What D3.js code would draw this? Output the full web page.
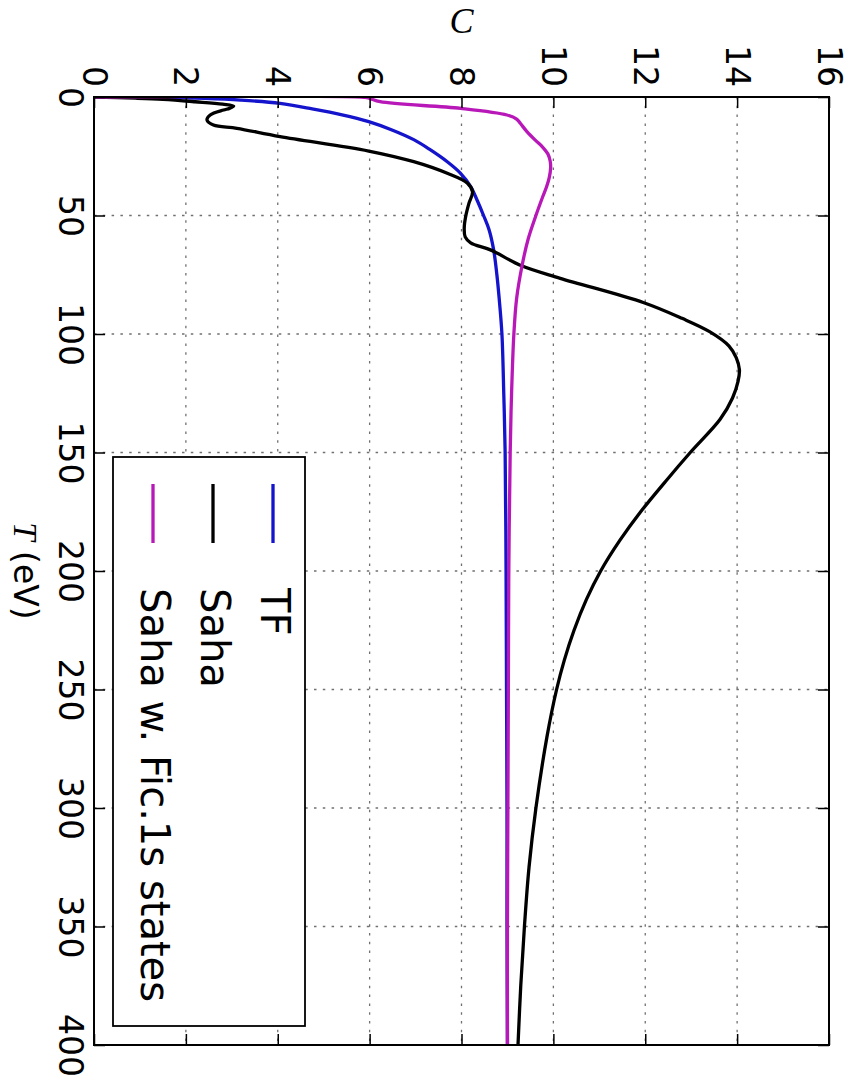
<!DOCTYPE html>
<html>
<head>
<meta charset="utf-8">
<script src="https://cdn.jsdelivr.net/npm/d3@7"></script>
<style>
  body { margin: 0; background: #fff; }
  svg { display: block; }
</style>
</head>
<body>
<script>
// Tick values
const cTicks = [0, 2, 4, 6, 8, 10, 12, 14, 16];
const tTicks = [0, 50, 100, 150, 200, 250, 300, 350, 400];

// Thomas-Fermi ionization C(T)
const tfT = [0, 0.2, 0.6, 1.3, 2.7, 5, 7.5, 10.4, 14, 18, 22, 27.3, 32, 37.8, 44, 50, 56, 64.5, 75, 85, 100, 125, 150, 200, 250, 300, 350, 400];
const tfC = [0, 1.5, 2.4, 3.19, 4.05, 4.75, 5.4, 5.98, 6.5, 6.96, 7.3, 7.69, 7.97, 8.2, 8.35, 8.48, 8.6, 8.7, 8.77, 8.82, 8.88, 8.92, 8.95, 8.97, 8.98, 8.99, 8.99, 9.0];

// Saha ionization C(T)
const sahaT = [0, 0.5, 1, 2, 3, 3.8, 4.8, 5.5, 7.6, 9.7, 11.8, 13.2, 16.7, 22.8, 27.3, 32.2, 36.4, 40, 45, 50.5, 55, 59, 61.5, 64.5, 71, 76.5, 86.8, 93.4, 99, 105, 110, 115, 120, 127, 136, 150, 162, 175, 187, 200, 212, 225, 237.5, 250, 270, 300, 325, 350, 375, 400];
const sahaC = [0, 0.9, 1.5, 2.2, 2.8, 3.04, 2.95, 2.82, 2.53, 2.46, 2.6, 3.11, 4.05, 5.98, 6.96, 7.69, 8.13, 8.24, 8.16, 8.09, 8.06, 8.08, 8.2, 8.63, 9.28, 10.15, 11.97, 12.8, 13.4, 13.82, 13.98, 14.05, 14.02, 13.9, 13.63, 12.98, 12.45, 11.9, 11.45, 11.03, 10.72, 10.45, 10.24, 10.07, 9.86, 9.62, 9.47, 9.37, 9.29, 9.23];

// Saha with fictitious 1s states C(T)
const ficT = [0, 0.15, 0.6, 2, 4.8, 7.6, 9.3, 11.1, 14.5, 18.1, 21, 24, 27, 30, 34, 38, 42, 50, 60, 71, 85, 100, 125, 150, 200, 250, 300, 350, 400];
const ficC = [0, 5.9, 6.0, 6.23, 7.98, 8.99, 9.2, 9.28, 9.42, 9.6, 9.76, 9.88, 9.93, 9.94, 9.91, 9.85, 9.77, 9.62, 9.45, 9.32, 9.2, 9.14, 9.09, 9.06, 9.03, 9.02, 9.01, 9.0, 9.0];

const seriesNames = ["TF", "Saha", "Saha w. Fic.1s states"];
const seriesColors = ["#1414cc", "#000000", "#b918b9"];

const W = 850, H = 1080;
const pLeft = 94, pRight = 829, pTop = 97, pBottom = 1045;

const x = d3.scaleLinear().domain([0, 16]).range([pLeft, pRight]);
const y = d3.scaleLinear().domain([0, 400]).range([pTop, pBottom]);

const svg = d3.select("body").append("svg")
  .attr("width", W).attr("height", H)
  .style("font-family", "'DejaVu Sans', sans-serif");

svg.append("defs").append("clipPath").attr("id", "plot-clip")
  .append("rect").attr("x", pLeft).attr("y", pTop)
  .attr("width", pRight - pLeft).attr("height", pBottom - pTop);

// Dotted grid
const grid = svg.append("g").attr("stroke", "#707070").attr("stroke-width", 1.3)
  .attr("stroke-dasharray", "2.5,6.3");
grid.selectAll("line.gc").data(cTicks.slice(1, -1)).join("line")
  .attr("x1", d => x(d)).attr("x2", d => x(d)).attr("y1", pTop).attr("y2", pBottom);
grid.selectAll("line.gt").data(tTicks.slice(1, -1)).join("line")
  .attr("y1", d => y(d)).attr("y2", d => y(d)).attr("x1", pLeft).attr("x2", pRight);

// Curves (C on the horizontal axis, T running downward)
const series = [
  { t: tfT, c: tfC },
  { t: sahaT, c: sahaC },
  { t: ficT, c: ficC }
];
const line = d3.line().x(d => x(d[1])).y(d => y(d[0])).curve(d3.curveCatmullRom.alpha(0.5));
const curves = svg.append("g").attr("clip-path", "url(#plot-clip)");
series.forEach((s, i) => {
  curves.append("path")
    .attr("d", line(s.t.map((t, k) => [t, s.c[k]])))
    .attr("fill", "none")
    .attr("stroke", seriesColors[i])
    .attr("stroke-width", 3.3)
    .attr("stroke-linejoin", "round");
});

// Axes with inward ticks
const tickLen = 11;
function styleAxis(g) {
  g.select(".domain").remove();
  g.selectAll(".tick line").attr("stroke", "#000").attr("stroke-width", 1.5);
}
const axTop = svg.append("g").attr("transform", `translate(0,${pTop})`)
  .call(d3.axisTop(x).tickValues(cTicks).tickSize(-tickLen).tickFormat(d3.format("d")))
  .call(styleAxis);
axTop.selectAll(".tick text")
  .attr("x", null).attr("y", null).attr("dy", "0.36em")
  .attr("text-anchor", "end")
  .attr("transform", "translate(0,-10) rotate(90)")
  .attr("fill", "#000").style("font-size", "33px")
  .style("font-family", "'DejaVu Sans', sans-serif");

svg.append("g").attr("transform", `translate(0,${pBottom})`)
  .call(d3.axisBottom(x).tickValues(cTicks).tickSize(-tickLen).tickFormat(""))
  .call(styleAxis);

const axLeft = svg.append("g").attr("transform", `translate(${pLeft},0)`)
  .call(d3.axisLeft(y).tickValues(tTicks).tickSize(-tickLen).tickFormat(d3.format("d")))
  .call(styleAxis);
axLeft.selectAll(".tick text")
  .attr("x", null).attr("y", null).attr("dy", null)
  .attr("text-anchor", "middle")
  .attr("transform", "translate(-35,0) rotate(90)")
  .attr("fill", "#000").style("font-size", "33px")
  .style("font-family", "'DejaVu Sans', sans-serif");

svg.append("g").attr("transform", `translate(${pRight},0)`)
  .call(d3.axisRight(y).tickValues(tTicks).tickSize(-tickLen).tickFormat(""))
  .call(styleAxis);

// Frame
svg.append("rect").attr("x", pLeft).attr("y", pTop)
  .attr("width", pRight - pLeft).attr("height", pBottom - pTop)
  .attr("fill", "none").attr("stroke", "#000").attr("stroke-width", 2);

// Axis titles
svg.append("text")
  .attr("x", (pLeft + pRight) / 2).attr("y", 33)
  .attr("text-anchor", "middle")
  .style("font-family", "'Liberation Serif', serif")
  .style("font-style", "italic")
  .style("font-size", "36px")
  .text("C");

const tLabel = svg.append("text")
  .attr("text-anchor", "middle")
  .attr("transform", `translate(14,${(pTop + pBottom) / 2}) rotate(90)`)
  .style("font-size", "33px");
tLabel.append("tspan")
  .style("font-family", "'Liberation Serif', serif")
  .style("font-style", "italic")
  .text("T");
tLabel.append("tspan").text(" (eV)");

// Legend
const legend = svg.append("g");
legend.append("rect")
  .attr("x", 113).attr("y", 457).attr("width", 192).attr("height", 569)
  .attr("fill", "#fff").attr("stroke", "#000").attr("stroke-width", 1.8);
const legendX = [273, 213, 153];
seriesNames.forEach((name, i) => {
  legend.append("line")
    .attr("x1", legendX[i]).attr("x2", legendX[i])
    .attr("y1", 484).attr("y2", 543)
    .attr("stroke", seriesColors[i]).attr("stroke-width", 3.3);
  legend.append("text")
    .attr("transform", `translate(${legendX[i] - 12},588) rotate(90)`)
    .attr("text-anchor", "start")
    .style("font-size", "40px")
    .text(name);
});
</script>
</body>
</html>
